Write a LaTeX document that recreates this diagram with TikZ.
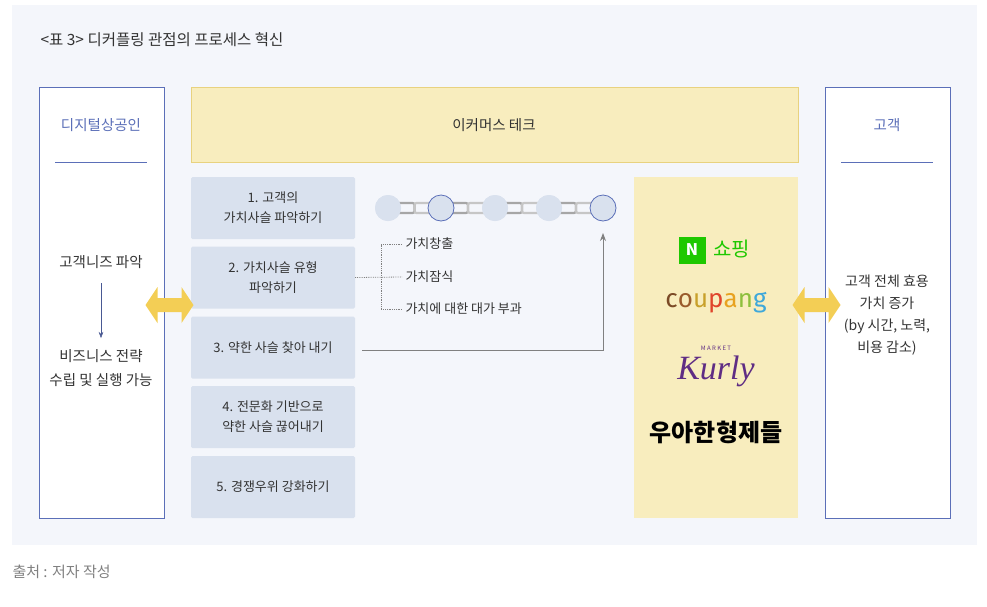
\documentclass[tikz,border=0pt]{standalone}
\usepackage{fontspec}
\setmainfont{Noto Sans CJK KR}
\usetikzlibrary{arrows.meta,calc}
\definecolor{panel}{HTML}{F4F6FB}
\definecolor{bblue}{HTML}{5B6FB8}
\definecolor{ybox}{HTML}{F8EDBE}
\definecolor{yline}{HTML}{E8D27F}
\definecolor{gbox}{HTML}{D9E1EE}
\definecolor{arrowy}{HTML}{F3CE55}
\definecolor{txt}{HTML}{333333}
\definecolor{ngreen}{HTML}{1EC800}
\definecolor{kpurple}{HTML}{5F2D84}
\tikzset{
 sidebox/.style={draw=bblue,fill=white,line width=0.8pt},
 stepbox/.style={fill=gbox,draw=none,rounded corners=1.5pt,minimum width=164pt,minimum height=62pt,align=center,font=\fontsize{13pt}{20pt}\selectfont,text=txt},
 lbl/.style={font=\fontsize{14.5pt}{24pt}\selectfont,text=txt,align=center},
 sm/.style={font=\fontsize{13pt}{16pt}\selectfont,text=txt,anchor=west},
 ring/.style={circle,minimum size=26pt,inner sep=0pt,fill=gbox},
 link/.style={draw=gray!70,line width=2.2pt,rounded corners=2pt},
 fatarrow/.style={fill=arrowy,draw=none}
}
\begin{document}
\begin{tikzpicture}[x=1pt,y=-1pt]
\useasboundingbox (0,0) rectangle (987,606);
\fill[panel] (12,5) rectangle (977,545);
\node[anchor=west,font=\fontsize{15.5pt}{18pt}\selectfont,text=txt] (title) at (37,40) {<표 3> 디커플링 관점의 프로세스 혁신};
% left box
\draw[sidebox] (39,87) rectangle (164,518);
\node[lbl,text=bblue] (dig) at (101,125) {디지털상공인};
\draw[bblue,line width=1pt] (55,162) -- (147,162);
\node[lbl] (needs) at (101,262) {고객니즈 파악};
\node[lbl] (strat) at (101,368) {비즈니스 전략\\수립 및 실행 가능};
\coordinate (dA) at (101,283);
\coordinate (dB) at (101,338);
\draw[-{Stealth[length=6pt]},bblue!80!black] (dA) -- (dB);
% top box
\draw[fill=ybox,draw=yline] (191,87) rectangle (798,162);
\node[lbl] (ecom) at (494,125) {이커머스 테크};
% steps
\node[stepbox] (s1) at (273,208) {1. 고객의\\가치사슬 파악하기};
\node[stepbox] (s2) at (273,277.5) {2. 가치사슬 유형\\파악하기};
\node[stepbox] (s3) at (273,347.5) {3. 약한 사슬 찾아 내기};
\node[stepbox] (s4) at (273,417) {4. 전문화 기반으로\\약한 사슬 끊어내기};
\node[stepbox] (s5) at (273,487) {5. 경쟁우위 강화하기};
% chain
\foreach \i/\x in {1/388,2/441,3/495,4/549,5/603}{
  \node[ring] (c\i) at (\x,208) {};
}
\foreach \a/\b in {1/2,2/3,3/4,4/5}{
  \draw[link] ($(c\a)!0.5!(c\b)$) ++(-18,-5) rectangle ++(18,10);
  \draw[link,draw=gray!45] ($(c\a)!0.5!(c\b)$) ++(0,-5) rectangle ++(18,10);
}
\foreach \i/\x in {1/388,2/441,3/495,4/549,5/603}{
  \node[ring] at (\x,208) {};
}
\draw[bblue,line width=0.8pt] (c2) circle (13pt);
\draw[bblue,line width=0.8pt] (c5) circle (13pt);
% dotted tree
\node[sm] (v1) at (402,244) {가치창출};
\node[sm] (v2) at (402,277) {가치잠식};
\node[sm] (v3) at (402,309) {가치에 대한 대가 부과};
\draw[densely dotted,gray,thick] (s2.east) -- (v2.west);
\draw[densely dotted,gray,thick] (v1.west) -- (381,244) -- (381,309) -- (v3.west);
% arrow
\coordinate (astart) at (362,350);
\coordinate (atip) at (603,233);
\draw[-{Stealth[length=8pt]},gray,line width=0.9pt] (astart) -| (atip);
% right yellow
\fill[ybox] (634,177) rectangle (798,518);
\node[fill=ngreen,minimum size=27pt,inner sep=0pt,text=white,font=\bfseries\fontsize{16pt}{16pt}\selectfont] (nlogo) at (692,250) {N};
\node[text=ngreen,font=\fontsize{20pt}{20pt}\selectfont,anchor=west] (shop) at (710,249) {쇼핑};
\node[font=\fontspec{Fira Sans}\fontsize{26pt}{26pt}\selectfont] (coup) at (716,303) {\textcolor[HTML]{7B4A26}{c}\textcolor[HTML]{9A5B2C}{o}\textcolor[HTML]{C8A02A}{u}\textcolor[HTML]{E0452B}{p}\textcolor[HTML]{E8A21F}{a}\textcolor[HTML]{8DBF3C}{n}\textcolor[HTML]{3FA8DA}{g}};
\node[text=kpurple,font=\fontsize{6pt}{6pt}\selectfont] (mk) at (716,348) {M A R K E T};
\node[text=kpurple,inner sep=0pt] (kurly) at (716,371) {\fontspec{Liberation Serif}\itshape\fontsize{34pt}{34pt}\selectfont Kurly};
\node[font=\bfseries\fontsize{24pt}{24pt}\selectfont,text=black,inner sep=0pt] (baemin) at (716,432) {우아한형제들};
% right box
\draw[sidebox] (825,87) rectangle (950,518);
\node[lbl,text=bblue] (cust) at (887,125) {고객};
\draw[bblue,line width=1pt] (841,162) -- (933,162);
\node[lbl,font=\fontsize{14pt}{22pt}\selectfont] (util) at (887,315) {고객 전체 효용\\가치 증가\\(by 시간, 노력,\\비용 감소)};
% fat arrows
\foreach \cx in {169.5,816.5}{
 \fill[fatarrow] (\cx-24,305) -- (\cx-12,287) -- (\cx-12,298) -- (\cx+12,298) -- (\cx+12,287) -- (\cx+24,305) -- (\cx+12,323) -- (\cx+12,312) -- (\cx-12,312) -- (\cx-12,323) -- cycle;
}
\node[anchor=west,text=gray,font=\fontsize{15pt}{18pt}\selectfont] (src) at (9,572) {출처 : 저자 작성};
\end{tikzpicture}
\end{document}
